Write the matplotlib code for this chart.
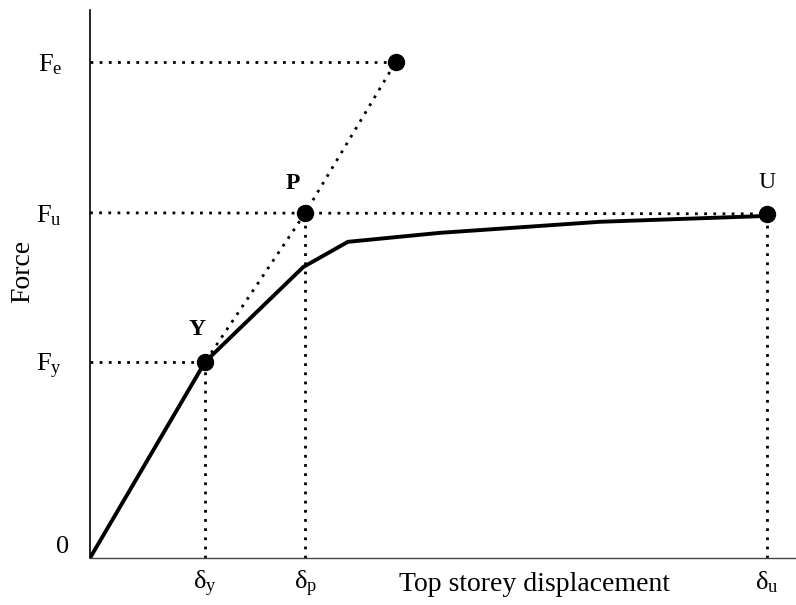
import numpy as np
import matplotlib
matplotlib.use("Agg")
import matplotlib.pyplot as plt

plt.rcParams['font.family'] = ['Liberation Serif', 'DejaVu Serif']
plt.rcParams['mathtext.fontset'] = 'custom'
plt.rcParams['mathtext.rm'] = 'Liberation Serif'

# capacity curve (displacement normalised by delta_u, force by F_u)
disp = [0.0, 0.170, 0.315, 0.381, 0.517, 0.753, 1.0]
force = [0.0, 0.568, 0.843, 0.916, 0.942, 0.974, 0.991]

# key points
d_y, F_y = 0.170, 0.568
d_p, F_u = 0.318, 1.0
d_e, F_e = 0.452, 1.438
d_u, F_uu = 1.0, 0.997

xticks = [d_y, d_p, d_u]
xticklabels = [r'$\mathregular{δ_y}$', r'$\mathregular{δ_p}$', r'$\mathregular{δ_u}$']
yticks = [F_y, F_u, F_e]
yticklabels = [r'$\mathregular{F_y}$', r'$\mathregular{F_u}$', r'$\mathregular{F_e}$']

fig = plt.figure(figsize=(7.96, 6.05), dpi=100)
ax = fig.add_axes([0.1131, 0.0777, 0.887, 0.906])

dot = dict(color='black', lw=2.0, linestyle=(0, (1, 2.3)))

# guide lines
ax.plot([0, d_e], [F_e, F_e], **dot)
ax.plot([0, d_u], [F_u, F_uu], **dot)
ax.plot([0, d_y], [F_y, F_y], **dot)
ax.plot([d_y, d_y], [0, F_y], **dot)
ax.plot([d_p, d_p], [0, F_u], **dot)
ax.plot([d_u, d_u], [0, F_uu], **dot)
# elastic line
ax.plot([0, d_y, d_p, d_e], [0, F_y, F_u, F_e], **dot)

ax.plot(disp, force, color='black', lw=2.8, solid_capstyle='round')

ax.plot([d_y, d_p, d_e, d_u], [F_y, F_u, F_e, F_uu], 'o', color='black', ms=11.5)

ax.text(d_y - 0.012, F_y + 0.095, 'Y', fontsize=17, fontweight='bold', ha='center', va='center')
ax.text(d_p - 0.018, F_u + 0.085, 'P', fontsize=17, fontweight='bold', ha='center', va='center')
ax.text(d_u, F_uu + 0.09, 'U', fontsize=17, ha='center', va='center')

ax.set_xlim(0, 1.043)
ax.set_ylim(0, 1.588)
ax.set_xticks(xticks)
ax.set_xticklabels(xticklabels, fontsize=19)
ax.set_yticks(yticks)
ax.set_yticklabels(yticklabels, fontsize=19)
ax.tick_params(axis='x', length=0, pad=8)
ax.tick_params(axis='y', length=0, pad=20)

# origin label sits a little above the axis line
ax.text(-0.03, 0.02, '0', transform=ax.transAxes, fontsize=19, ha='right', va='center')

ax.spines['top'].set_visible(False)
ax.spines['right'].set_visible(False)
ax.spines['left'].set_linewidth(1.2)
ax.spines['bottom'].set_linewidth(1.0)
ax.spines['bottom'].set_color('#444444')

ax.text(0.629, -0.049, 'Top storey displacement', transform=ax.transAxes,
        fontsize=20, ha='center', va='center')
ax.text(-0.095, 0.522, 'Force', transform=ax.transAxes, rotation=90,
        fontsize=20, ha='center', va='center')

fig.savefig('out.png', dpi=100)
